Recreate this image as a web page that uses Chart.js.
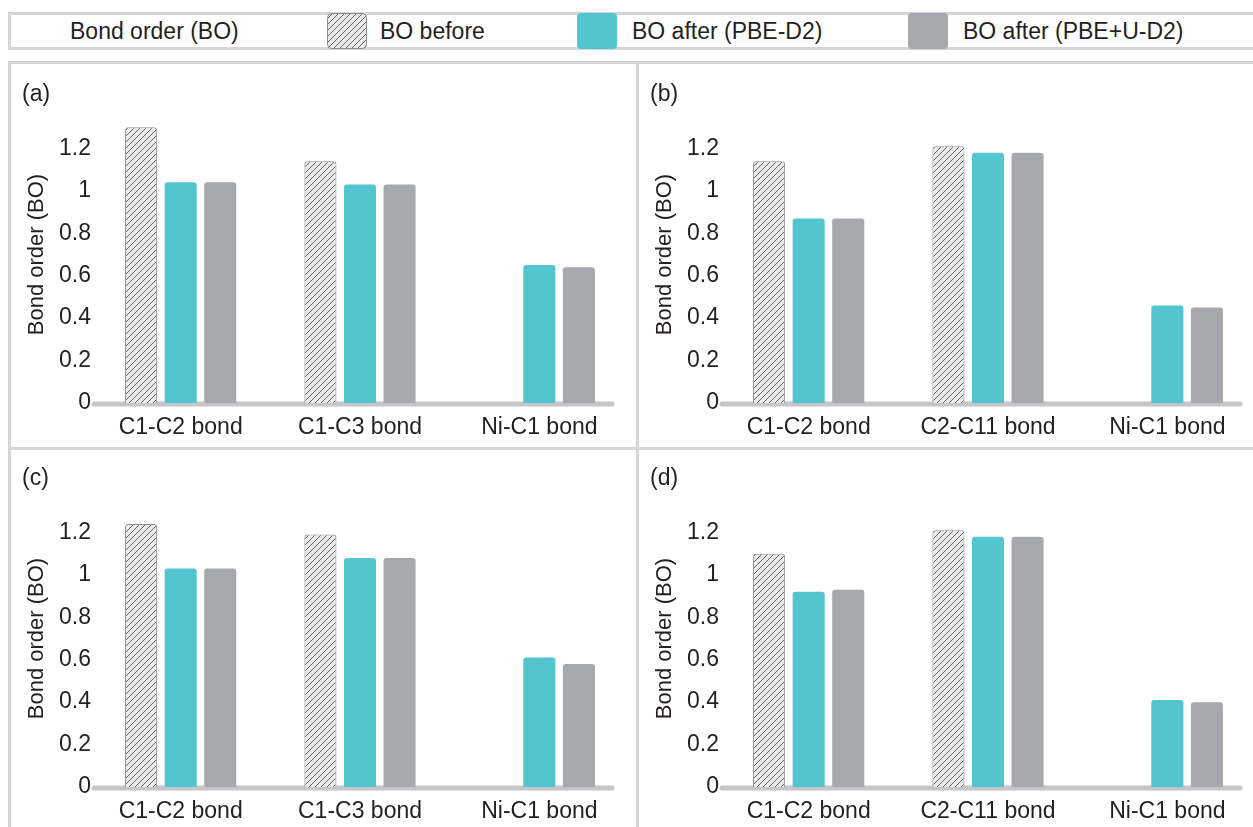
<!DOCTYPE html>
<html>
<head>
<meta charset="utf-8">
<title>Bond order</title>
<script src="https://cdn.jsdelivr.net/npm/chart.js@4.4.1/dist/chart.umd.min.js"></script>
<style>
  body { margin: 0; width: 1253px; height: 827px; overflow: hidden; background: #fff; position: relative;
         font-family: "Liberation Sans", Arial, sans-serif; color: #231f20; }
  .frame { position: absolute; border: 3px solid #d4d5d7; box-sizing: border-box; z-index: 2; }
  .rule { position: absolute; background: #d4d5d7; z-index: 2; }
  .txt { position: absolute; top: 19px; font-size: 23px; line-height: 24px; white-space: nowrap; z-index: 3; }
  .sw { position: absolute; top: 13px; width: 40px; height: 36px; border-radius: 4px; z-index: 3; }
  canvas.panel { position: absolute; z-index: 1; }
</style>
</head>
<body>

<!-- legend strip -->
<div class="frame" style="left:8px; top:12px; width:1270px; height:38px;"></div>
<div class="txt" style="left:70px;">Bond order (BO)</div>
<canvas class="sw" id="swBefore" width="40" height="36" style="left:327px;"></canvas>
<div class="txt" style="left:380px;">BO before</div>
<div class="sw" style="left:577px; background:#53c5cf;"></div>
<div class="txt" style="left:632px;">BO after (PBE-D2)</div>
<div class="sw" style="left:908px; background:#a6a8ab;"></div>
<div class="txt" style="left:963px;">BO after (PBE+U-D2)</div>

<!-- panel grid -->
<div class="frame" style="left:8px; top:61px; width:1270px; height:820px;"></div>
<div class="rule" style="left:636px; top:61px; width:3px; height:820px;"></div>
<div class="rule" style="left:8px; top:447px; width:1270px; height:3px;"></div>

<canvas class="panel" id="chartA" width="629" height="384" style="left:8px; top:62px;"></canvas>
<canvas class="panel" id="chartB" width="629" height="384" style="left:636px; top:62px;"></canvas>
<canvas class="panel" id="chartC" width="629" height="384" style="left:8px; top:446px;"></canvas>
<canvas class="panel" id="chartD" width="629" height="384" style="left:636px; top:446px;"></canvas>

<script>
// bond labels
const bondsAC = ["C1-C2 bond", "C1-C3 bond", "Ni-C1 bond"];
const bondsBD = ["C1-C2 bond", "C2-C11 bond", "Ni-C1 bond"];

// panel (a)
const beforeA = [1.30, 1.14, null];
const pbeA    = [1.04, 1.03, 0.65];
const pbeuA   = [1.04, 1.03, 0.64];

// panel (b)
const beforeB = [1.14, 1.21, null];
const pbeB    = [0.87, 1.18, 0.46];
const pbeuB   = [0.87, 1.18, 0.45];

// panel (c)
const beforeC = [1.24, 1.19, null];
const pbeC    = [1.03, 1.08, 0.61];
const pbeuC   = [1.03, 1.08, 0.58];

// panel (d)
const beforeD = [1.10, 1.21, null];
const pbeD    = [0.92, 1.18, 0.41];
const pbeuD   = [0.93, 1.18, 0.40];

const yTicks = [0, 0.2, 0.4, 0.6, 0.8, 1, 1.2];

const ink = "#231f20";
const fontFamily = '"Liberation Sans", Arial, sans-serif';
const cyan = "#53c5cf";
const grey = "#a6a8ab";

// diagonal hatch used for the "before" bars
function makeHatch() {
    const c = document.createElement("canvas");
    c.width = 6;
    c.height = 6;
    const g = c.getContext("2d");
    g.fillStyle = "#ebebeb";
    g.fillRect(0, 0, 6, 6);
    g.strokeStyle = "#404040";
    g.lineWidth = 0.8;
    g.beginPath();
    g.moveTo(0, 6); g.lineTo(6, 0);
    g.moveTo(-1, 1); g.lineTo(1, -1);
    g.moveTo(5, 7); g.lineTo(7, 5);
    g.stroke();
    return g.createPattern(c, "repeat");
}
const hatch = makeHatch();

// legend swatch for the hatch
(function () {
    const g = document.getElementById("swBefore").getContext("2d");
    g.fillStyle = hatch;
    g.beginPath();
    g.roundRect(0.5, 0.5, 39, 35, 4);
    g.fill();
    g.strokeStyle = "#8c8c8c";
    g.lineWidth = 1;
    g.stroke();
})();

// thick grey zero line under the bars
const baseline = {
    id: "baseline",
    beforeDatasetsDraw(chart) {
        const { ctx, chartArea, scales } = chart;
        const y = scales.y.getPixelForValue(0);
        ctx.save();
        ctx.strokeStyle = "#c5c6c8";
        ctx.lineWidth = 5;
        ctx.lineCap = "round";
        ctx.beginPath();
        ctx.moveTo(chartArea.left + 3, y + 1);
        ctx.lineTo(chartArea.right - 17, y + 1);
        ctx.stroke();
        ctx.restore();
    }
};

function makePanel(id, title, labels, before, pbe, pbeu) {
    const font = { family: fontFamily, size: 23 };
    new Chart(document.getElementById(id), {
        type: "bar",
        data: {
            labels: labels,
            datasets: [
                { label: "BO before", data: before, backgroundColor: hatch,
                  borderColor: "#8c8c8c", borderWidth: 1, borderRadius: 3 },
                { label: "BO after (PBE-D2)", data: pbe, backgroundColor: cyan, borderRadius: 3 },
                { label: "BO after (PBE+U-D2)", data: pbeu, backgroundColor: grey, borderRadius: 3 }
            ]
        },
        options: {
            responsive: false,
            animation: false,
            layout: { padding: { left: 14, right: 8, top: 0, bottom: 6 } },
            datasets: { bar: { barPercentage: 0.81, categoryPercentage: 0.662 } },
            plugins: {
                legend: { display: false },
                tooltip: { enabled: false },
                title: {
                    display: true, text: title, align: "start", color: ink,
                    font: { family: fontFamily, size: 23, weight: "normal", lineHeight: 1 },
                    padding: { top: 21, bottom: 0 }
                }
            },
            scales: {
                x: {
                    grid: { display: false, drawTicks: false },
                    border: { display: false },
                    afterFit: s => { s.height = 37; },
                    ticks: { color: ink, font: font, padding: 11 }
                },
                y: {
                    min: 0,
                    max: 1.4,
                    grid: { display: false, drawTicks: false },
                    border: { display: false },
                    afterBuildTicks: s => { s.ticks = yTicks.map(v => ({ value: v })); },
                    afterFit: s => { s.width = 69; },
                    ticks: { color: ink, font: font, padding: 0,
                             callback: v => String(Math.round(v * 10) / 10) },
                    title: { display: true, text: "Bond order (BO)", color: ink,
                             font: { family: fontFamily, size: 22 },
                             padding: { top: 2, bottom: 0 } }
                }
            }
        },
        plugins: [baseline]
    });
}

makePanel("chartA", "(a)", bondsAC, beforeA, pbeA, pbeuA);
makePanel("chartB", "(b)", bondsBD, beforeB, pbeB, pbeuB);
makePanel("chartC", "(c)", bondsAC, beforeC, pbeC, pbeuC);
makePanel("chartD", "(d)", bondsBD, beforeD, pbeD, pbeuD);
</script>
</body>
</html>
